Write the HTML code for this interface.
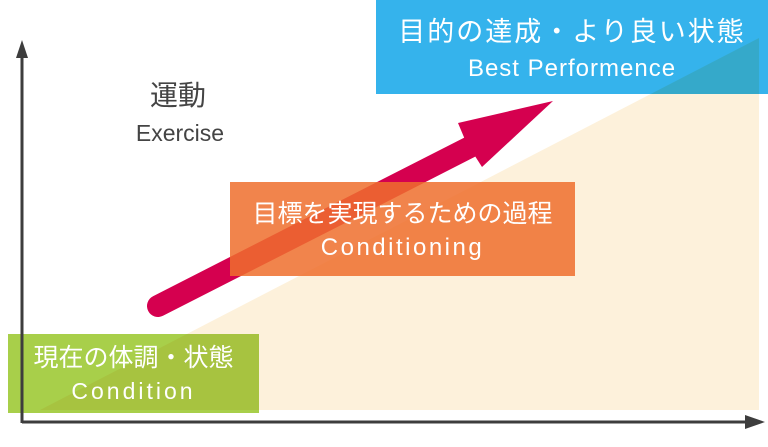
<!DOCTYPE html>
<html><head><meta charset="utf-8"><style>
html,body{margin:0;padding:0;background:#fff;}
body{width:768px;height:447px;position:relative;overflow:hidden;font-family:"Liberation Sans","Noto Sans CJK JP",sans-serif;}
</style></head><body>
<svg width="768" height="447" style="position:absolute;left:0;top:0">
<rect x="376" y="0" width="392" height="94" fill="#35b3ec"/>
<rect x="8" y="334" width="251" height="79" fill="#a8cf4a"/>
<polygon points="40,410 759,38 759,410" fill="#fdf1db" style="mix-blend-mode:multiply"/>
<line x1="158" y1="306" x2="470" y2="147" stroke="#d5004f" stroke-width="22" stroke-linecap="round"/>
<polygon points="553,101 458,123 466,142 482,167" fill="#d5004f"/>
<rect x="230" y="182" width="345" height="94" fill="rgba(238,110,45,0.85)"/>
<line x1="22" y1="50" x2="22" y2="423" stroke="#3d3d3d" stroke-width="3"/>
<polygon points="22,40 16,58 28,58" fill="#3d3d3d"/>
<line x1="22" y1="422" x2="750" y2="422" stroke="#3d3d3d" stroke-width="3"/>
<polygon points="765,422 745,415 745,429" fill="#3d3d3d"/>
</svg>
<div style="position:absolute;left:376px;top:14px;width:392px;text-align:center;color:#fff;font-size:27px;line-height:36px;letter-spacing:2px">目的の達成・より良い状態</div>
<div style="position:absolute;left:376px;top:54px;width:392px;text-align:center;color:#fff;font-size:24px;line-height:30px;letter-spacing:1px">Best Performence</div>
<div style="position:absolute;left:118px;top:78px;width:120px;text-align:center;color:#444;font-size:28px;line-height:36px">運動</div>
<div style="position:absolute;left:110px;top:118px;width:140px;text-align:center;color:#444;font-size:23px;line-height:30px">Exercise</div>
<div style="position:absolute;left:230px;top:197px;width:345px;text-align:center;color:#fff;font-size:25px;line-height:34px">目標を実現するための過程</div>
<div style="position:absolute;left:230px;top:233px;width:345px;text-align:center;color:#fff;font-size:24px;line-height:30px;letter-spacing:2.5px">Conditioning</div>
<div style="position:absolute;left:8px;top:341px;width:251px;text-align:center;color:#fff;font-size:25px;line-height:34px">現在の体調・状態</div>
<div style="position:absolute;left:8px;top:376px;width:251px;text-align:center;color:#fff;font-size:23px;line-height:30px;letter-spacing:3px">Condition</div>
</body></html>
